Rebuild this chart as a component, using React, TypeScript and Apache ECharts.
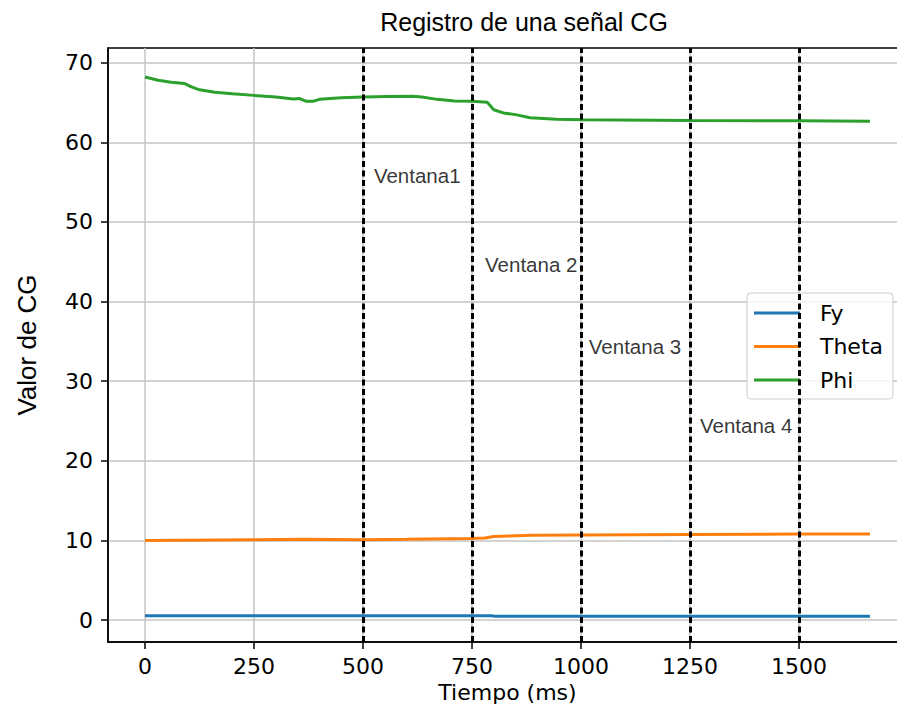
import React, { useEffect, useRef } from "react";
import * as echarts from "echarts";

const seriesNames = ["Fy", "Theta", "Phi"];
const seriesColors = ["#1f77b4", "#ff7f0e", "#2ca02c"];

const fyData: [number, number][] = [
  [0, 0.55], [200, 0.55], [400, 0.55], [600, 0.55], [795, 0.55], [805, 0.47],
  [1000, 0.47], [1250, 0.47], [1500, 0.47], [1663, 0.47],
];

const thetaData: [number, number][] = [
  [0, 10.0], [250, 10.1], [362, 10.15], [500, 10.1], [600, 10.15], [748, 10.25],
  [780, 10.3], [800, 10.5], [850, 10.6], [888, 10.65], [1000, 10.7], [1250, 10.75],
  [1500, 10.8], [1663, 10.8],
];

const phiData: [number, number][] = [
  [0, 68.2], [30, 67.8], [60, 67.55], [90, 67.4], [105, 67.0], [125, 66.6],
  [160, 66.3], [200, 66.1], [250, 65.9], [300, 65.7], [340, 65.45], [355, 65.5],
  [370, 65.15], [385, 65.15], [400, 65.4], [450, 65.6], [500, 65.7], [560, 65.75],
  [615, 65.8], [635, 65.7], [670, 65.4], [710, 65.2], [750, 65.15], [785, 65.05],
  [800, 64.1], [822, 63.7], [853, 63.45], [883, 63.1], [944, 62.9], [1005, 62.85],
  [1250, 62.75], [1500, 62.7], [1663, 62.65],
];

const windowLines = [500, 750, 1000, 1250, 1500];
const windowLabels = ["Ventana1", "Ventana 2", "Ventana 3", "Ventana 4"];
const windowLabelX = [525, 780, 1018, 1273];
const windowLabelY = [55.8, 44.6, 34.3, 24.4];

const xTicks = [0, 250, 500, 750, 1000, 1250, 1500];
const yTicks = [0, 10, 20, 30, 40, 50, 60, 70];

const titleText = "Registro de una señal CG";
const xName = "Tiempo (ms)";
const yName = "Valor de CG";

export default function App() {
  const ref = useRef<HTMLDivElement>(null);
  useEffect(() => {
    if (!ref.current) return;
    const chart = echarts.init(ref.current, null, { renderer: "svg" });
    const dv = "DejaVu Sans";
    const lib = "Liberation Sans";
    const lineSeries = [fyData, thetaData, phiData].map((d, i) => ({
      name: seriesNames[i],
      type: "line",
      data: d,
      showSymbol: false,
      symbol: "none",
      lineStyle: { width: 3, color: seriesColors[i] },
      itemStyle: { color: seriesColors[i] },
      z: 2,
    }));
    chart.setOption({
      animation: false,
      backgroundColor: "#ffffff",
      title: {
        text: titleText,
        left: 519,
        top: 4,
        textAlign: "center",
        textStyle: { fontFamily: lib, fontSize: 25, fontWeight: "normal", color: "#000" },
      },
      grid: {
        left: 108,
        width: 799,
        top: 48,
        bottom: 73,
        outerBoundsMode: "none",
        containLabel: false,
        show: true,
        borderColor: "#000",
        borderWidth: 1.5,
        backgroundColor: "transparent",
      },
      legend: {
        data: seriesNames,
        orient: "vertical",
        right: 4,
        top: 293,
        align: "left",
        icon: "rect",
        itemWidth: 46,
        itemHeight: 3,
        itemGap: 11.5,
        padding: [9, 10, 8, 7],
        backgroundColor: "rgba(255,255,255,0.8)",
        borderColor: "#cccccc",
        borderWidth: 1,
        borderRadius: 4,
        textStyle: { fontFamily: dv, fontSize: 22, color: "#000", padding: [0, 0, 0, 15] },
      },
      xAxis: {
        type: "value",
        min: -85,
        max: 1748,
        name: xName,
        nameLocation: "middle",
        nameGap: 38,
        nameTextStyle: { fontFamily: dv, fontSize: 22, color: "#000" },
        axisLine: { show: true, onZero: false, lineStyle: { color: "#000", width: 1.5 } },
        axisTick: { show: true, length: 7, lineStyle: { color: "#000", width: 1.5 }, customValues: xTicks },
        axisLabel: {
          fontFamily: dv, fontSize: 22, color: "#000", margin: 13, customValues: xTicks,
          formatter: (v: number) => String(v),
        },
        splitLine: { show: true, lineStyle: { color: "#c4c4c4", width: 1.5 } },
      },
      yAxis: {
        type: "value",
        min: -2.75,
        max: 71.85,
        name: yName,
        nameLocation: "middle",
        nameRotate: 90,
        nameGap: 68,
        nameTextStyle: { fontFamily: lib, fontSize: 26, color: "#000" },
        axisLine: { show: true, onZero: false, lineStyle: { color: "#000", width: 1.5 } },
        axisTick: { show: true, length: 7, lineStyle: { color: "#000", width: 1.5 }, customValues: yTicks },
        axisLabel: {
          fontFamily: dv, fontSize: 22, color: "#000", margin: 15, customValues: yTicks,
          formatter: (v: number) => String(v),
        },
        splitLine: { show: true, lineStyle: { color: "#c4c4c4", width: 1.5 } },
      },
      series: [
        ...lineSeries,
        {
          name: "ventanas",
          type: "line",
          data: [],
          silent: true,
          z: 3,
          markLine: {
            silent: true,
            symbol: ["none", "none"],
            label: { show: false },
            lineStyle: { color: "#000", width: 3, type: [6, 3.5] },
            data: windowLines.map((x) => ({ xAxis: x })),
          },
        },
        {
          name: "textos",
          type: "scatter",
          symbolSize: 0,
          silent: true,
          z: 4,
          data: windowLabels.map((n, i) => ({ name: n, value: [windowLabelX[i], windowLabelY[i]] })),
          label: {
            show: true,
            position: "right",
            distance: 0,
            formatter: (p: any) => p.name,
            fontFamily: lib,
            fontSize: 20.5,
            color: "#000",
            align: "left",
            verticalAlign: "middle",
          },
        },
      ],
    });
    return () => chart.dispose();
  }, []);
  return <div ref={ref} style={{ position: "absolute", left: 0, top: 0, width: 897, height: 715 }} />;
}
